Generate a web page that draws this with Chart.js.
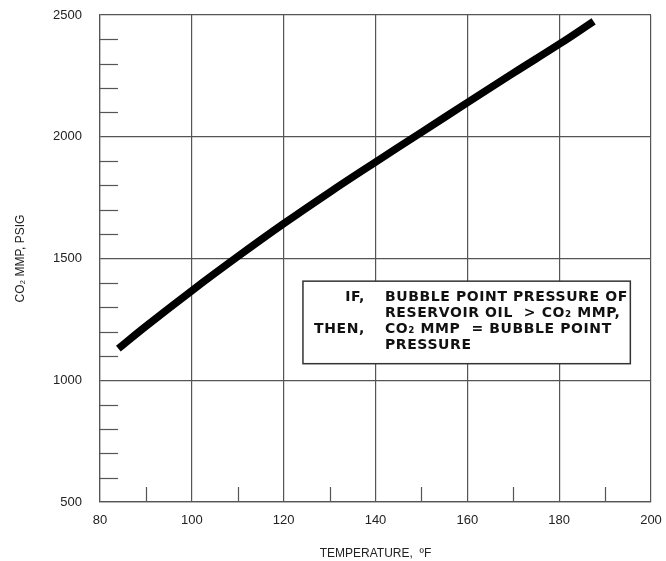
<!DOCTYPE html>
<html>
<head>
<meta charset="utf-8">
<script src="https://cdn.jsdelivr.net/npm/chart.js@4"></script>
<style>
  html, body { margin: 0; padding: 0; background: #fff; }
  #wrap { width: 666px; height: 561px; }
</style>
</head>
<body>
<div id="wrap"><canvas id="c" width="666" height="561"></canvas></div>
<script>
// Data
const temperatures = [84, 90, 100, 110, 120, 130, 140, 150, 160, 170, 180, 187.5];
const mmpValues   = [1130, 1222, 1368, 1508, 1643, 1772, 1896, 2018, 2140, 2261, 2380, 2474];
const xTicks = [80, 100, 120, 140, 160, 180, 200];
const yTicks = [500, 1000, 1500, 2000, 2500];
const xMinorTicks = [90, 110, 130, 150, 170, 190];
const yMinorTicks = [600, 700, 800, 900, 1100, 1200, 1300, 1400, 1600, 1700, 1800, 1900, 2100, 2200, 2300, 2400];
const noteLabels = ['IF,', '', 'THEN,', ''];
const noteLines = ['BUBBLE POINT PRESSURE OF', 'RESERVOIR OIL  > CO\u2082 MMP,', 'CO\u2082 MMP  = BUBBLE POINT', 'PRESSURE'];
const noteBox = { x1: 124.2, x2: 195.5, y1: 1407, y2: 1068 };

const FONT = '"Liberation Sans", Arial, sans-serif';
const AXIS_COLOR = '#555';

const extras = {
  id: 'extras',
  afterDatasetsDraw(chart) {
    const { ctx, chartArea: a, scales: { x, y } } = chart;
    ctx.save();
    ctx.strokeStyle = AXIS_COLOR;
    ctx.lineWidth = 1.2;
    yMinorTicks.forEach(v => {
      const py = Math.round(y.getPixelForValue(v)) + 0.5;
      ctx.beginPath(); ctx.moveTo(a.left, py); ctx.lineTo(a.left + 18, py); ctx.stroke();
    });
    xMinorTicks.forEach(v => {
      const px = Math.round(x.getPixelForValue(v)) + 0.5;
      ctx.beginPath(); ctx.moveTo(px, a.bottom); ctx.lineTo(px, a.bottom - 15); ctx.stroke();
    });
    const bx1 = x.getPixelForValue(noteBox.x1), bx2 = x.getPixelForValue(noteBox.x2);
    const by1 = y.getPixelForValue(noteBox.y1), by2 = y.getPixelForValue(noteBox.y2);
    ctx.fillStyle = '#fff';
    ctx.fillRect(bx1, by1, bx2 - bx1, by2 - by1);
    ctx.strokeStyle = '#333';
    ctx.lineWidth = 1.5;
    ctx.strokeRect(bx1, by1, bx2 - bx1, by2 - by1);
    ctx.fillStyle = '#111';
    ctx.font = 'bold 14px "DejaVu Sans", sans-serif';
    ctx.letterSpacing = '0.6px';
    ctx.textBaseline = 'middle';
    const lh = 16;
    const startY = by1 + 16;
    noteLines.forEach((t, i) => {
      const ly = startY + i * lh;
      if (noteLabels[i]) {
        ctx.textAlign = 'right';
        ctx.fillText(noteLabels[i], bx1 + 62, ly);
      }
      ctx.textAlign = 'left';
      ctx.fillText(t, bx1 + 82, ly);
    });
    ctx.restore();
  }
};

new Chart(document.getElementById('c'), {
  type: 'line',
  data: {
    datasets: [{
      data: temperatures.map((t, i) => ({ x: t, y: mmpValues[i] })),
      borderColor: '#000',
      borderWidth: 7.5,
      pointRadius: 0,
      tension: 0.4,
      fill: false,
      borderCapStyle: 'butt'
    }]
  },
  options: {
    responsive: false,
    animation: false,
    devicePixelRatio: 1,
    layout: { padding: { left: 13, right: 15, top: 15, bottom: 0 } },
    plugins: { legend: { display: false }, tooltip: { enabled: false } },
    scales: {
      x: {
        type: 'linear',
        min: 80, max: 200,
        afterBuildTicks: s => { s.ticks = xTicks.map(v => ({ value: v })); },
        afterFit: s => { s.height = 59; s.paddingLeft = 0; s.paddingRight = 0; },
        grid: { color: AXIS_COLOR, lineWidth: 1.2, drawTicks: false },
        border: { color: AXIS_COLOR, width: 1.2 },
        ticks: { color: '#222', padding: 11, font: { family: FONT, size: 13 }, maxRotation: 0, callback: v => String(v) },
        title: { display: true, text: 'TEMPERATURE,  \u00BAF', color: '#222', font: { family: FONT, size: 12 }, padding: { top: 6, bottom: 0 } }
      },
      y: {
        type: 'linear',
        min: 500, max: 2500,
        afterBuildTicks: s => { s.ticks = yTicks.map(v => ({ value: v })); },
        afterFit: s => { s.width = 87; s.paddingTop = 0; s.paddingBottom = 0; },
        grid: { color: AXIS_COLOR, lineWidth: 1.2, drawTicks: false },
        border: { color: AXIS_COLOR, width: 1.2 },
        ticks: { color: '#222', padding: 18, font: { family: FONT, size: 13 }, callback: v => String(v) },
        title: { display: true, text: 'CO\u2082 MMP, PSIG', color: '#222', font: { family: FONT, size: 12 }, padding: { top: 0, bottom: 10 } }
      }
    }
  },
  plugins: [extras]
});
</script>
</body>
</html>
